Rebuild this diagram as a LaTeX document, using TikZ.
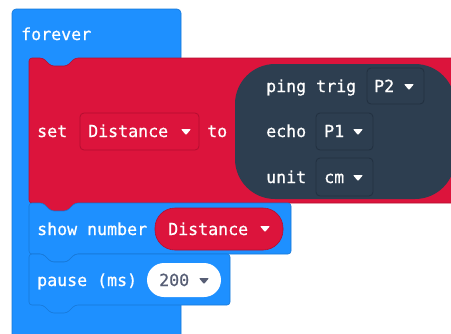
\documentclass[tikz,border=0pt]{standalone}
\usepackage{fontspec}
\newfontfamily\mono[FakeBold=0.7]{DejaVu Sans Mono}
\definecolor{mkblue}{RGB}{30,144,255}
\definecolor{mkblueb}{RGB}{24,120,215}
\definecolor{mkred}{RGB}{220,20,60}
\definecolor{mkredb}{RGB}{180,14,48}
\definecolor{mkdark}{RGB}{45,62,80}
\definecolor{mkdarkb}{RGB}{34,48,64}
\definecolor{mkgray}{RGB}{87,94,117}
\newcommand\mkblock[6]{%
  \draw[fill=#1,draw=#2,line width=0.6pt,rounded corners=3]
    (#3,#4) -- ({#3+14},#4) -- ({#3+22},{#4+8}) -- ({#3+38},{#4+8}) -- ({#3+46},#4)
    -- (#5,#4) -- (#5,#6) -- ({#3+46},#6) -- ({#3+38},{#6+8}) -- ({#3+22},{#6+8})
    -- ({#3+14},#6) -- (#3,#6) -- cycle;}
\newcommand\tri[3]{\fill[#1,rounded corners=0.8] (#2,#3) -- ({#2+10},#3) -- ({#2+5},{#3+6}) -- cycle;}
\tikzset{
  lbl/.style={text=white,font=\mono\fontsize{16.6}{20}\selectfont,anchor=base west,inner sep=0pt},
  ddbox/.style={line width=0.8pt,rounded corners=4},
}
\begin{document}
\begin{tikzpicture}[x=1pt,y=-1pt]
\useasboundingbox (0,0) rectangle (451,333);
\clip (0,0) rectangle (451,333);
\fill[white] (0,0) rectangle (451,333);
% forever block
\draw[fill=mkblue,draw=mkblueb,line width=0.6pt,rounded corners=4] (12,9) rectangle (181,345);
\node[lbl] (forever) at (21,40) {forever};
% set block
\mkblock{mkred}{mkredb}{29}{58}{465}{203}
\node[lbl] (set) at (37,137) {set};
\draw[ddbox,fill=mkred,draw=mkredb] (80,113) rectangle (199,150);
\node[lbl] (dist1) at (88,137) {Distance};
\tri{white}{181}{129}
\node[lbl] (to) at (207,137) {to};
% ping block
\fill[mkdark,rounded corners=40] (235,64) rectangle (455,199);
\node[lbl] (ping) at (266,92) {ping trig};
\draw[ddbox,fill=mkdark,draw=mkdarkb] (367,68) rectangle (424,104);
\node[lbl] (p2) at (374,92) {P2};
\tri{white}{404}{84}
\node[lbl] (echo) at (266,137) {echo};
\draw[ddbox,fill=mkdark,draw=mkdarkb] (316,113) rectangle (373,150);
\node[lbl] (p1) at (324,137) {P1};
\tri{white}{353}{129}
\node[lbl] (unit) at (266,183) {unit};
\draw[ddbox,fill=mkdark,draw=mkdarkb] (316,158) rectangle (373,196);
\node[lbl] (cm) at (324,183) {cm};
\tri{white}{353}{175}
% show number block
\mkblock{mkblue}{mkblueb}{29}{203}{291}{254}
\node[lbl] (show) at (37,235) {show number};
\draw[fill=mkred,draw=mkredb,line width=0.6pt,rounded corners=20] (155,208) rectangle (283,250);
\node[lbl] (dist2) at (168,235) {Distance};
\tri{white}{260}{226}
% pause block
\mkblock{mkblue}{mkblueb}{29}{254}{230}{305}
\node[lbl] (pause) at (37,286) {pause (ms)};
\fill[white,rounded corners=17] (147,263) rectangle (221,297);
\node[lbl,text=mkgray] (ms) at (159,286) {200};
\tri{mkgray}{199}{278}
\end{tikzpicture}
\end{document}
